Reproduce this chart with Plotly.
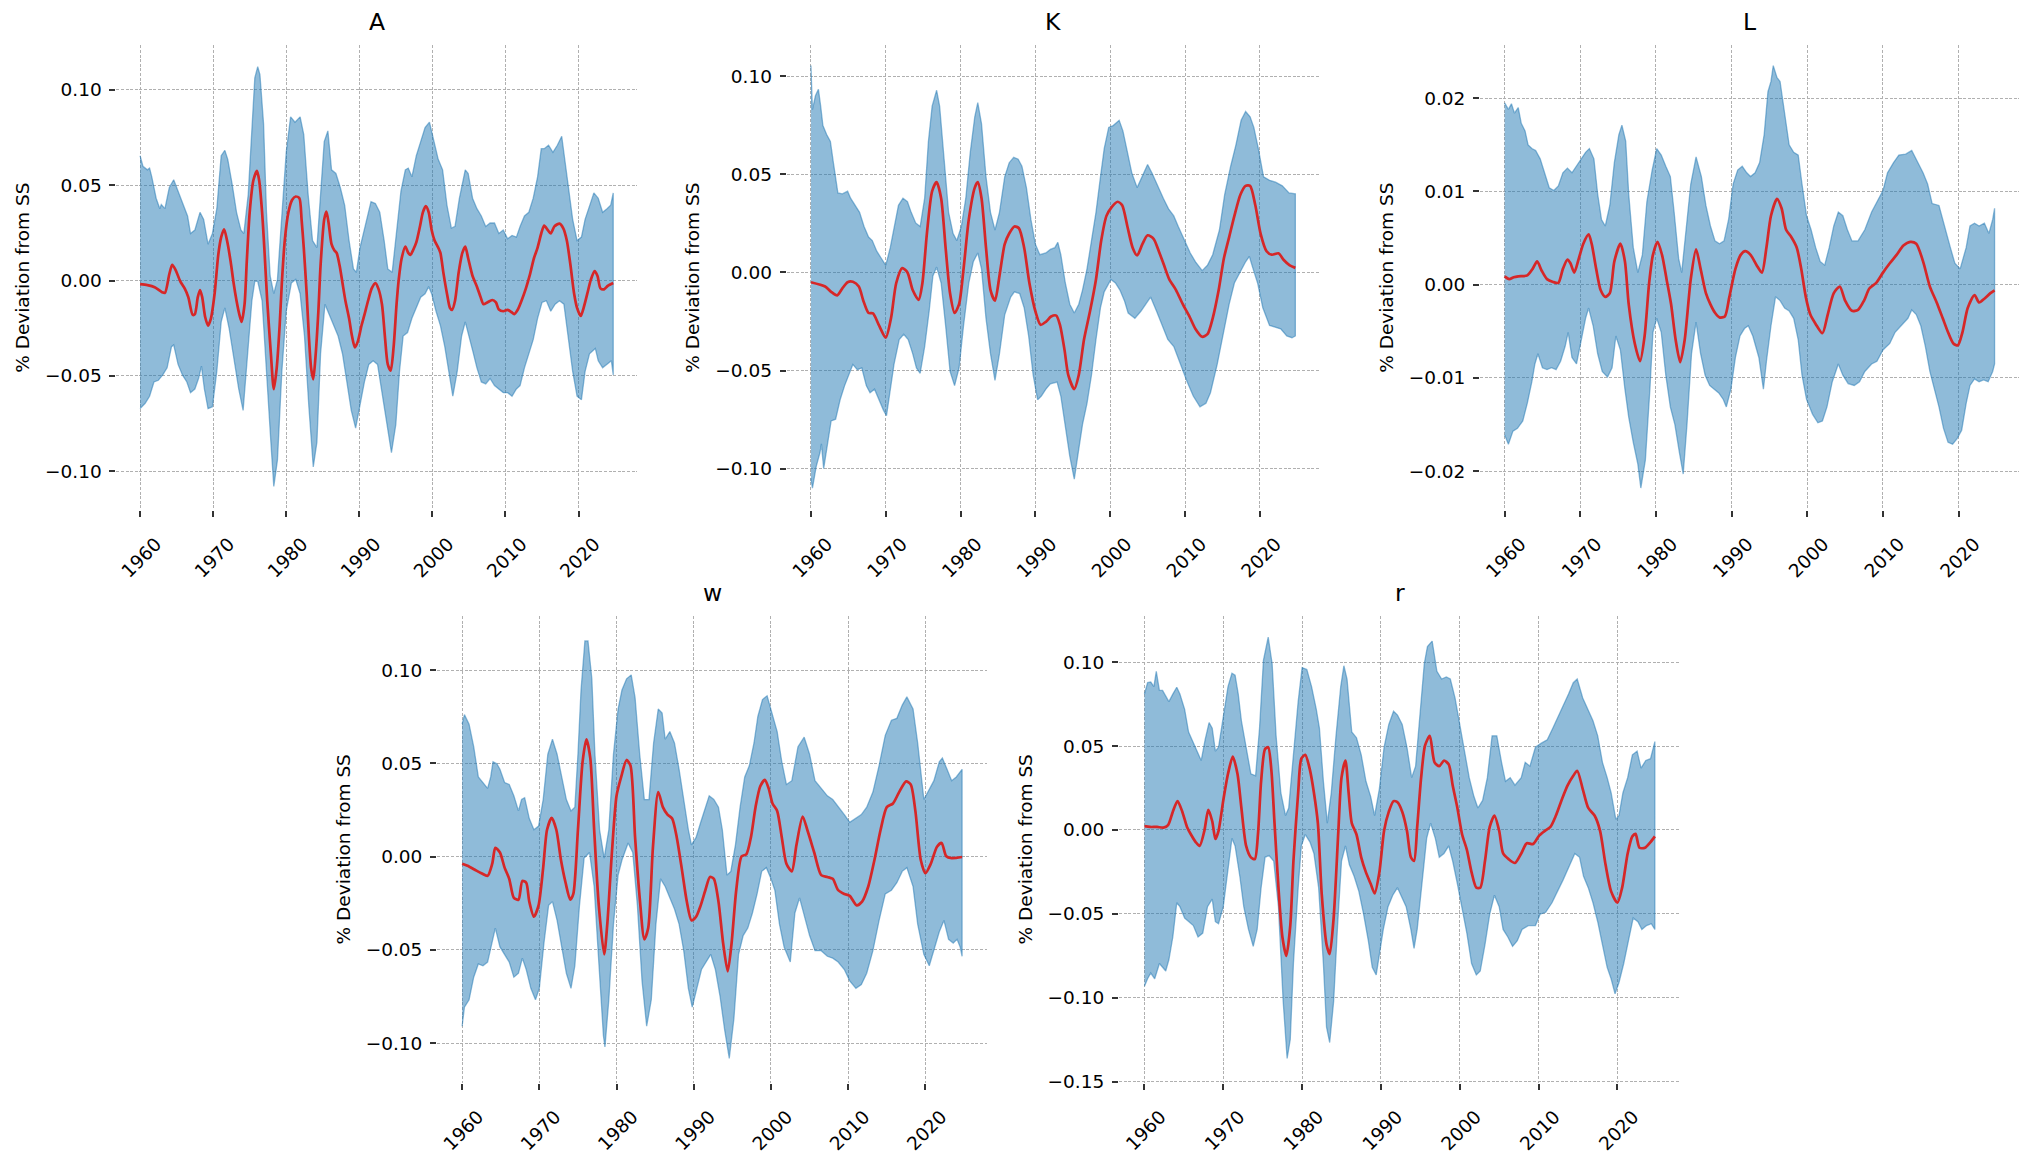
import plotly.graph_objects as go

# ---------------- data: (year, value) pairs ----------------
A_MEAN = [(1960.0,-0.0019),(1961.0,-0.0024),(1962.0,-0.0035),(1963.0,-0.0061),(1963.4,-0.0065),(1964.0,0.0033),(1964.4,0.0083),(1964.9,0.0052),(1965.5,-0.0004),(1966.1,-0.0041),(1966.6,-0.0087),(1967.2,-0.018),(1967.5,-0.0176),(1967.9,-0.0087),(1968.2,-0.005),(1968.5,-0.0087),(1968.9,-0.019),(1969.3,-0.0236),(1969.7,-0.0198),(1970.2,-0.0069),(1970.7,0.0135),(1971.1,0.0228),(1971.5,0.0269),(1971.9,0.021),(1972.4,0.0098),(1972.8,-0.0013),(1973.2,-0.0106),(1973.6,-0.018),(1973.9,-0.0217),(1974.3,-0.0124),(1974.6,0.0098),(1975.0,0.0358),(1975.5,0.0525),(1976.0,0.0575),(1976.3,0.0525),(1976.7,0.0358),(1977.0,0.0173),(1977.4,-0.0106),(1977.9,-0.0384),(1978.3,-0.057),(1978.7,-0.0458),(1979.1,-0.0236),(1979.4,-0.0013),(1979.8,0.021),(1980.3,0.0358),(1980.8,0.0423),(1981.3,0.0441),(1981.8,0.0432),(1982.1,0.0321),(1982.4,0.0173),(1982.8,-0.0069),(1983.1,-0.0291),(1983.4,-0.0458),(1983.7,-0.0518),(1984.0,-0.0403),(1984.4,-0.0161),(1984.7,0.008),(1985.2,0.0321),(1985.5,0.0362),(1985.8,0.0302),(1986.2,0.0191),(1986.6,0.0158),(1986.9,0.0145),(1987.3,0.008),(1987.7,-0.0013),(1988.1,-0.0106),(1988.6,-0.0198),(1989.0,-0.0291),(1989.4,-0.0351),(1989.8,-0.0319),(1990.3,-0.0236),(1990.7,-0.018),(1991.2,-0.0106),(1991.7,-0.0041),(1992.2,-0.0013),(1992.6,-0.0041),(1993.1,-0.0124),(1993.5,-0.0291),(1993.9,-0.044),(1994.3,-0.0473),(1994.7,-0.0347),(1995.1,-0.0124),(1995.4,0.0006),(1995.8,0.0117),(1996.3,0.0178),(1996.7,0.0145),(1997.0,0.0135),(1997.4,0.0163),(1997.8,0.02),(1998.3,0.0284),(1998.7,0.0358),(1999.1,0.039),(1999.5,0.0358),(1999.9,0.0265),(2000.3,0.021),(2000.8,0.0173),(2001.1,0.0145),(2001.5,0.0043),(2002.0,-0.0069),(2002.4,-0.0143),(2002.7,-0.0154),(2003.1,-0.0106),(2003.6,0.0043),(2004.1,0.0145),(2004.5,0.0178),(2004.9,0.0117),(2005.5,0.0024),(2006.1,-0.0032),(2006.6,-0.0087),(2007.0,-0.0124),(2007.5,-0.0115),(2008.2,-0.0102),(2008.7,-0.0115),(2009.1,-0.0152),(2009.7,-0.0161),(2010.3,-0.0154),(2010.8,-0.0165),(2011.2,-0.0176),(2011.7,-0.0152),(2012.2,-0.0106),(2012.8,-0.0041),(2013.3,0.0024),(2013.9,0.0117),(2014.4,0.0173),(2014.9,0.0247),(2015.3,0.0288),(2015.8,0.0265),(2016.2,0.0247),(2016.7,0.0284),(2017.4,0.0299),(2017.9,0.0275),(2018.4,0.021),(2018.9,0.008),(2019.4,-0.0069),(2019.8,-0.0143),(2020.3,-0.0186),(2020.7,-0.0143),(2021.2,-0.0069),(2021.7,0.0006),(2022.2,0.005),(2022.6,0.0024),(2023.0,-0.0041),(2023.5,-0.0046),(2024.0,-0.0028),(2024.75,-0.0013)]
A_UPPER = [(1960.0,0.0655),(1960.4,0.0599),(1961.0,0.0581),(1961.3,0.059),(1961.6,0.0544),(1962.2,0.0432),(1962.7,0.0377),(1962.9,0.0399),(1963.4,0.0377),(1964.0,0.0488),(1964.6,0.0529),(1965.2,0.0469),(1965.8,0.0404),(1966.5,0.0339),(1966.9,0.0247),(1967.5,0.0265),(1968.2,0.0358),(1968.7,0.0321),(1969.3,0.0191),(1969.9,0.0247),(1970.5,0.0377),(1971.1,0.0655),(1971.6,0.0683),(1972.0,0.0636),(1972.6,0.0506),(1973.2,0.0358),(1973.8,0.0265),(1974.2,0.0247),(1974.8,0.0451),(1975.3,0.0822),(1975.7,0.1063),(1976.1,0.1122),(1976.4,0.1081),(1976.9,0.0822),(1977.3,0.0358),(1977.8,0.0024),(1978.3,-0.0069),(1978.8,0.0006),(1979.4,0.0358),(1980.0,0.0673),(1980.6,0.0859),(1981.2,0.0831),(1981.9,0.0859),(1982.4,0.0766),(1983.0,0.0451),(1983.6,0.021),(1984.2,0.0173),(1984.7,0.0432),(1985.2,0.0729),(1985.7,0.0785),(1986.2,0.0581),(1986.8,0.0562),(1987.4,0.0488),(1988.0,0.0395),(1988.6,0.021),(1989.2,0.0061),(1989.6,0.0043),(1990.1,0.0173),(1991.0,0.0321),(1991.6,0.0414),(1992.2,0.0404),(1992.8,0.0358),(1993.4,0.021),(1993.9,0.0061),(1994.5,0.0043),(1995.1,0.0265),(1995.7,0.0469),(1996.3,0.0581),(1996.7,0.059),(1997.2,0.0544),(1997.8,0.0655),(1998.4,0.0729),(1999.0,0.0803),(1999.6,0.0831),(2000.2,0.0729),(2000.8,0.0636),(2001.4,0.0581),(2002.0,0.0395),(2002.6,0.0275),(2003.1,0.0284),(2003.7,0.0432),(2004.5,0.0581),(2004.9,0.0562),(2005.5,0.0432),(2006.1,0.0377),(2006.7,0.0339),(2007.3,0.0284),(2007.9,0.0302),(2008.5,0.0302),(2009.1,0.0247),(2009.7,0.0265),(2010.3,0.0219),(2010.9,0.0237),(2011.5,0.0228),(2012.0,0.0284),(2012.6,0.0339),(2013.2,0.0358),(2013.8,0.0432),(2014.4,0.0544),(2014.9,0.0692),(2015.3,0.0692),(2015.9,0.071),(2016.5,0.0673),(2017.1,0.071),(2017.7,0.0757),(2018.0,0.0673),(2018.6,0.0506),(2019.2,0.0321),(2019.8,0.021),(2020.4,0.0228),(2020.9,0.0321),(2021.5,0.0395),(2022.1,0.046),(2022.7,0.0432),(2023.3,0.0358),(2023.9,0.0377),(2024.4,0.0395),(2024.75,0.046)]
A_LOWER = [(1960.0,-0.0672),(1960.7,-0.0644),(1961.3,-0.0607),(1961.9,-0.0532),(1962.5,-0.0523),(1963.1,-0.0495),(1963.7,-0.0458),(1964.3,-0.0347),(1964.6,-0.0338),(1965.2,-0.044),(1965.8,-0.0495),(1966.4,-0.0532),(1966.9,-0.0588),(1967.5,-0.0569),(1968.0,-0.0514),(1968.4,-0.0449),(1968.8,-0.0569),(1969.3,-0.0672),(1969.9,-0.0662),(1970.5,-0.0477),(1971.1,-0.0217),(1971.6,-0.0143),(1972.2,-0.0254),(1972.9,-0.0421),(1973.5,-0.0569),(1974.1,-0.0681),(1974.7,-0.0384),(1975.3,-0.0106),(1975.7,-0.0004),(1976.1,-0.0004),(1976.7,-0.0106),(1977.3,-0.0477),(1977.9,-0.0848),(1978.3,-0.108),(1978.8,-0.0941),(1979.4,-0.0477),(1980.0,-0.0161),(1980.7,-0.0013),(1981.3,0.0006),(1981.9,-0.0069),(1982.5,-0.0291),(1983.1,-0.0662),(1983.7,-0.0978),(1984.2,-0.0848),(1984.7,-0.0384),(1985.3,-0.0124),(1985.9,-0.018),(1986.5,-0.0236),(1987.1,-0.0291),(1987.7,-0.0384),(1988.3,-0.0532),(1988.9,-0.0681),(1989.5,-0.0774),(1990.1,-0.0662),(1990.7,-0.0532),(1991.3,-0.044),(1991.9,-0.0421),(1992.5,-0.044),(1993.1,-0.0569),(1993.8,-0.0755),(1994.4,-0.0903),(1995.0,-0.0755),(1995.5,-0.0477),(1996.0,-0.0291),(1996.6,-0.0273),(1997.2,-0.0198),(1997.8,-0.0143),(1998.4,-0.0087),(1999.0,-0.0069),(1999.5,-0.0032),(1999.9,-0.0069),(2000.5,-0.0161),(2001.1,-0.0236),(2001.7,-0.0347),(2002.3,-0.0477),(2002.8,-0.0607),(2003.4,-0.0477),(2004.0,-0.0291),(2004.5,-0.0217),(2004.9,-0.0273),(2005.5,-0.0365),(2006.1,-0.0458),(2006.7,-0.0532),(2007.3,-0.0542),(2007.9,-0.0514),(2008.5,-0.0551),(2009.1,-0.0569),(2009.7,-0.0588),(2010.3,-0.0588),(2010.9,-0.0607),(2011.5,-0.0569),(2012.0,-0.0551),(2012.6,-0.0458),(2013.2,-0.0384),(2013.8,-0.031),(2014.4,-0.0198),(2015.0,-0.0115),(2015.6,-0.0106),(2016.2,-0.0161),(2016.8,-0.0124),(2017.4,-0.0106),(2018.0,-0.0124),(2018.6,-0.0291),(2019.2,-0.0477),(2019.8,-0.0607),(2020.4,-0.0625),(2020.9,-0.0477),(2021.5,-0.0384),(2022.3,-0.0356),(2022.7,-0.0421),(2023.3,-0.0458),(2023.9,-0.044),(2024.5,-0.0421),(2024.75,-0.0495)]

K_MEAN = [(1960.0,-0.005),(1961.9,-0.0072),(1962.7,-0.0099),(1963.5,-0.0117),(1964.2,-0.0081),(1964.9,-0.005),(1965.6,-0.0048),(1966.4,-0.0072),(1967.0,-0.0144),(1967.7,-0.0207),(1968.3,-0.0209),(1969.1,-0.027),(1970.0,-0.0333),(1970.7,-0.0234),(1971.4,-0.0054),(1972.2,0.0022),(1972.9,0.0),(1973.6,-0.009),(1974.4,-0.014),(1974.9,-0.0054),(1975.5,0.0198),(1976.2,0.0414),(1976.8,0.046),(1977.4,0.0378),(1978.0,0.0126),(1978.6,-0.0108),(1979.2,-0.0207),(1979.8,-0.0162),(1980.4,0.0018),(1981.1,0.027),(1981.9,0.0432),(1982.3,0.046),(1982.8,0.0378),(1983.4,0.0126),(1984.0,-0.009),(1984.6,-0.0144),(1985.2,-0.0018),(1985.9,0.0144),(1986.5,0.0198),(1987.2,0.0234),(1987.8,0.0225),(1988.5,0.0126),(1989.2,-0.0054),(1990.0,-0.0198),(1990.7,-0.0267),(1991.4,-0.0252),(1992.1,-0.0225),(1992.8,-0.022),(1993.3,-0.027),(1993.9,-0.0396),(1994.4,-0.0523),(1995.2,-0.0595),(1995.8,-0.0523),(1996.5,-0.0342),(1997.3,-0.0198),(1998.1,-0.0036),(1998.8,0.0162),(1999.5,0.0288),(2000.2,0.0333),(2001.0,0.036),(2001.6,0.0342),(2002.3,0.0234),(2003.0,0.0126),(2003.6,0.0086),(2004.3,0.0144),(2005.0,0.0189),(2005.8,0.0171),(2006.5,0.0108),(2007.2,0.0036),(2007.9,-0.0036),(2008.8,-0.009),(2009.7,-0.0162),(2010.6,-0.0225),(2011.4,-0.0288),(2012.3,-0.0328),(2013.0,-0.0315),(2013.7,-0.0234),(2014.5,-0.009),(2015.2,0.0072),(2015.9,0.018),(2016.6,0.0288),(2017.4,0.0396),(2018.1,0.0441),(2018.7,0.0441),(2019.4,0.0342),(2020.1,0.0198),(2020.9,0.0108),(2021.6,0.009),(2022.5,0.0097),(2023.2,0.0063),(2024.0,0.0036),(2024.75,0.0023)]
K_UPPER = [(1960.0,0.1054),(1960.2,0.0829),(1960.6,0.090),(1961.0,0.0933),(1961.3,0.0847),(1961.6,0.0748),(1962.1,0.0703),(1962.6,0.0667),(1963.0,0.0559),(1963.6,0.0405),(1964.2,0.040),(1964.9,0.0414),(1965.3,0.0378),(1965.9,0.0342),(1966.5,0.0306),(1967.1,0.0234),(1967.7,0.018),(1968.2,0.0162),(1968.8,0.0108),(1969.4,0.0072),(1970.0,0.0036),(1970.6,0.0126),(1971.1,0.0234),(1971.7,0.0342),(1972.3,0.0378),(1972.9,0.036),(1973.4,0.0306),(1974.0,0.0252),(1974.6,0.0234),(1975.2,0.0378),(1975.7,0.0667),(1976.2,0.0847),(1976.8,0.0928),(1977.2,0.0847),(1977.8,0.0577),(1978.4,0.0306),(1979.0,0.0198),(1979.5,0.0162),(1980.1,0.0234),(1980.7,0.0378),(1981.3,0.0613),(1981.9,0.0793),(1982.3,0.0865),(1982.8,0.0757),(1983.4,0.0487),(1984.0,0.0306),(1984.6,0.0216),(1985.2,0.0306),(1985.9,0.0487),(1986.5,0.0559),(1987.1,0.0586),(1987.7,0.0577),(1988.2,0.0541),(1988.8,0.0432),(1989.4,0.027),(1990.0,0.0144),(1990.6,0.009),(1991.4,0.0099),(1992.0,0.0117),(1992.6,0.0126),(1993.0,0.0153),(1993.4,0.009),(1994.0,-0.0054),(1994.6,-0.0162),(1995.2,-0.0207),(1995.8,-0.0162),(1996.3,-0.009),(1996.9,0.0018),(1997.5,0.0162),(1998.1,0.0306),(1998.7,0.0487),(1999.2,0.0631),(1999.8,0.0739),(2000.4,0.0748),(2001.2,0.0775),(2001.7,0.0721),(2002.3,0.0613),(2002.9,0.0505),(2003.6,0.0432),(2004.3,0.0487),(2005.0,0.055),(2005.6,0.0505),(2006.4,0.0432),(2007.1,0.0378),(2007.8,0.0324),(2008.5,0.0288),(2009.1,0.0234),(2010.0,0.0162),(2010.7,0.0099),(2011.4,0.0054),(2012.3,0.0009),(2013.0,0.0036),(2013.7,0.009),(2014.6,0.0216),(2015.3,0.0396),(2016.1,0.0541),(2016.8,0.0649),(2017.5,0.0775),(2018.1,0.082),(2018.7,0.0793),(2019.2,0.0739),(2019.8,0.0631),(2020.5,0.0487),(2021.3,0.0469),(2022.1,0.046),(2023.0,0.0441),(2023.9,0.0405),(2024.75,0.040)]
K_LOWER = [(1960.0,-0.105),(1960.2,-0.110),(1960.7,-0.099),(1961.2,-0.0919),(1961.4,-0.0874),(1961.7,-0.100),(1962.1,-0.0901),(1962.7,-0.0757),(1963.3,-0.0748),(1963.9,-0.0649),(1964.5,-0.0577),(1965.0,-0.0523),(1965.6,-0.0469),(1966.2,-0.0496),(1966.8,-0.0487),(1967.4,-0.0577),(1967.9,-0.0613),(1968.5,-0.0595),(1969.1,-0.0649),(1969.7,-0.0703),(1970.1,-0.073),(1970.6,-0.0613),(1971.1,-0.0469),(1971.8,-0.0342),(1972.4,-0.0315),(1973.0,-0.0342),(1973.6,-0.0414),(1974.1,-0.0487),(1974.6,-0.0514),(1975.2,-0.0378),(1975.8,-0.0198),(1976.3,-0.0018),(1976.8,0.0027),(1977.4,-0.0054),(1978.0,-0.027),(1978.6,-0.0505),(1979.2,-0.0577),(1979.8,-0.0487),(1980.4,-0.027),(1981.1,-0.0054),(1981.7,0.0054),(1982.3,0.0099),(1982.8,0.0018),(1983.4,-0.0234),(1984.0,-0.0414),(1984.6,-0.055),(1985.2,-0.0414),(1985.9,-0.0216),(1986.7,-0.0126),(1987.2,-0.0099),(1987.9,-0.0108),(1988.5,-0.018),(1989.1,-0.0324),(1989.7,-0.0523),(1990.3,-0.0649),(1990.8,-0.063),(1991.4,-0.0595),(1992.0,-0.0568),(1992.9,-0.0559),(1993.4,-0.063),(1994.0,-0.0775),(1994.6,-0.0937),(1995.2,-0.1054),(1995.8,-0.0901),(1996.3,-0.0775),(1996.9,-0.0667),(1997.5,-0.0523),(1998.1,-0.0342),(1998.7,-0.018),(1999.2,-0.0099),(2000.1,-0.0036),(2000.7,-0.0054),(2001.3,-0.009),(2001.9,-0.0144),(2002.4,-0.0207),(2003.3,-0.0234),(2004.1,-0.0198),(2004.8,-0.0162),(2005.4,-0.0126),(2006.2,-0.0198),(2007.0,-0.027),(2007.7,-0.0342),(2008.5,-0.0378),(2009.4,-0.0469),(2010.3,-0.0559),(2011.1,-0.063),(2012.0,-0.0685),(2012.8,-0.0667),(2013.4,-0.0613),(2014.3,-0.0469),(2015.1,-0.0324),(2015.9,-0.0162),(2016.6,-0.0054),(2017.4,0.0),(2018.1,0.0054),(2018.6,0.0081),(2019.1,0.0018),(2019.7,-0.0054),(2020.4,-0.018),(2021.3,-0.027),(2022.0,-0.0279),(2022.8,-0.0288),(2023.6,-0.0324),(2024.3,-0.0333),(2024.75,-0.0324)]

L_MEAN = [(1960.0,0.0009),(1960.6,0.0006),(1961.2,0.0008),(1961.8,0.0009),(1963.0,0.001),(1963.7,0.0017),(1964.3,0.0025),(1964.9,0.0015),(1965.6,0.0006),(1966.4,0.0003),(1967.1,0.0002),(1967.7,0.0017),(1968.3,0.0027),(1968.7,0.0023),(1969.2,0.0013),(1969.8,0.0028),(1970.4,0.0044),(1971.1,0.0054),(1971.5,0.0044),(1972.1,0.0017),(1972.7,-0.0006),(1973.3,-0.0013),(1973.9,-0.0009),(1974.5,0.0025),(1975.3,0.0044),(1975.9,0.0025),(1976.4,-0.0021),(1977.2,-0.0063),(1977.9,-0.0082),(1978.5,-0.0055),(1979.1,0.0002),(1979.6,0.0032),(1980.2,0.0046),(1980.8,0.0032),(1981.4,0.0006),(1982.0,-0.0021),(1982.6,-0.0059),(1983.2,-0.0083),(1983.8,-0.0059),(1984.6,0.0006),(1985.3,0.0038),(1985.9,0.0017),(1986.6,-0.0009),(1987.2,-0.0021),(1987.8,-0.003),(1988.4,-0.0035),(1989.1,-0.0034),(1989.7,-0.0013),(1990.5,0.0017),(1991.2,0.0032),(1991.8,0.0036),(1992.5,0.0032),(1993.3,0.0021),(1994.0,0.0013),(1994.6,0.004),(1995.2,0.0074),(1996.0,0.0092),(1996.6,0.0082),(1997.2,0.0059),(1997.9,0.0051),(1998.6,0.004),(1999.2,0.0017),(1999.8,-0.0013),(2000.4,-0.0032),(2001.1,-0.0042),(2002.0,-0.0052),(2002.7,-0.0032),(2003.5,-0.0009),(2004.3,-0.0002),(2005.0,-0.0017),(2005.9,-0.0028),(2006.7,-0.0027),(2007.5,-0.0017),(2008.2,-0.0004),(2009.1,0.0002),(2010.0,0.0013),(2010.9,0.0023),(2011.8,0.0032),(2012.7,0.0042),(2013.6,0.0046),(2014.4,0.0044),(2015.3,0.0025),(2016.2,-0.0002),(2017.1,-0.0019),(2017.9,-0.0036),(2018.6,-0.0051),(2019.3,-0.0063),(2019.9,-0.0065),(2020.5,-0.0051),(2021.2,-0.0025),(2022.1,-0.0011),(2022.7,-0.0019),(2023.4,-0.0015),(2024.2,-0.0009),(2024.75,-0.0006)]
L_UPPER = [(1960.0,0.0195),(1960.5,0.0188),(1960.9,0.0194),(1961.3,0.0184),(1961.8,0.019),(1962.2,0.0173),(1962.7,0.0165),(1963.1,0.015),(1963.6,0.0146),(1964.1,0.0144),(1964.7,0.0135),(1965.3,0.012),(1965.9,0.0104),(1966.5,0.0101),(1967.1,0.0106),(1967.7,0.012),(1968.3,0.0125),(1968.9,0.012),(1969.5,0.0127),(1970.1,0.0135),(1970.7,0.0142),(1971.2,0.0146),(1971.8,0.0135),(1972.3,0.0097),(1972.8,0.007),(1973.3,0.0063),(1973.9,0.0085),(1974.5,0.0131),(1975.1,0.0161),(1975.5,0.0171),(1976.0,0.0154),(1976.4,0.0097),(1977.0,0.004),(1977.6,0.0013),(1978.2,0.0032),(1978.8,0.0089),(1979.5,0.0123),(1980.1,0.0146),(1980.7,0.0139),(1981.3,0.0127),(1981.9,0.0116),(1982.4,0.0078),(1983.0,0.0028),(1983.4,0.0013),(1984.0,0.0063),(1984.6,0.0108),(1985.3,0.0137),(1986.0,0.0116),(1986.6,0.0085),(1987.2,0.0063),(1987.8,0.0047),(1988.4,0.0044),(1989.0,0.0047),(1989.6,0.007),(1990.2,0.0108),(1990.8,0.0123),(1991.4,0.0127),(1992.0,0.012),(1992.5,0.0116),(1993.1,0.012),(1993.7,0.0131),(1994.3,0.0161),(1994.8,0.0207),(1995.2,0.0218),(1995.5,0.0235),(1996.0,0.0222),(1996.4,0.0218),(1997.0,0.0184),(1997.6,0.015),(1998.2,0.0142),(1998.8,0.0139),(1999.3,0.0108),(1999.9,0.0074),(2000.5,0.0059),(2001.1,0.004),(2001.7,0.0025),(2002.3,0.0021),(2002.9,0.004),(2003.5,0.0063),(2004.1,0.0078),(2004.7,0.0074),(2005.3,0.0059),(2005.9,0.0047),(2006.7,0.0047),(2007.6,0.0059),(2008.5,0.0078),(2009.2,0.0089),(2010.0,0.0101),(2010.6,0.012),(2011.4,0.0131),(2012.1,0.0139),(2013.0,0.014),(2013.8,0.0144),(2014.6,0.0131),(2015.3,0.012),(2015.9,0.0108),(2016.5,0.0087),(2017.4,0.0085),(2018.1,0.0063),(2018.9,0.004),(2019.5,0.0023),(2020.2,0.0017),(2021.0,0.004),(2021.5,0.0063),(2022.1,0.0066),(2022.7,0.0063),(2023.4,0.0066),(2024.0,0.0055),(2024.5,0.007),(2024.75,0.0082)]
L_LOWER = [(1960.0,-0.0161),(1960.5,-0.0171),(1961.1,-0.0157),(1961.7,-0.0154),(1962.4,-0.0146),(1963.0,-0.0127),(1963.6,-0.0104),(1964.0,-0.0085),(1964.4,-0.0074),(1965.0,-0.0089),(1965.6,-0.0091),(1966.2,-0.0089),(1966.8,-0.0091),(1967.4,-0.0082),(1968.0,-0.0066),(1968.4,-0.0051),(1968.9,-0.0078),(1969.5,-0.0085),(1970.1,-0.0059),(1970.7,-0.0036),(1971.1,-0.0025),(1971.7,-0.0044),(1972.3,-0.0074),(1972.9,-0.0093),(1973.6,-0.0099),(1974.2,-0.0089),(1974.7,-0.0055),(1975.3,-0.007),(1975.9,-0.0112),(1976.4,-0.0142),(1977.0,-0.0169),(1977.6,-0.0192),(1978.0,-0.0218),(1978.6,-0.0188),(1979.2,-0.0112),(1979.6,-0.0051),(1980.1,-0.0036),(1980.7,-0.0051),(1981.3,-0.0097),(1981.9,-0.0131),(1982.5,-0.015),(1983.1,-0.018),(1983.6,-0.0203),(1984.1,-0.015),(1984.7,-0.0074),(1985.3,-0.004),(1985.9,-0.0074),(1986.5,-0.0097),(1987.1,-0.0108),(1987.7,-0.0112),(1988.3,-0.0116),(1988.9,-0.0123),(1989.3,-0.0131),(1989.9,-0.0112),(1990.5,-0.0078),(1991.1,-0.0055),(1991.7,-0.0047),(1992.2,-0.0044),(1992.8,-0.0055),(1993.6,-0.0078),(1994.2,-0.0112),(1994.6,-0.0082),(1995.2,-0.0044),(1995.8,-0.0013),(1996.4,-0.0017),(1997.0,-0.0025),(1997.6,-0.0028),(1998.2,-0.0036),(1998.8,-0.0059),(1999.3,-0.0097),(1999.9,-0.0123),(2000.7,-0.0139),(2001.4,-0.0148),(2002.0,-0.0146),(2002.6,-0.0131),(2003.3,-0.0104),(2004.1,-0.0085),(2004.7,-0.0097),(2005.4,-0.0106),(2006.2,-0.0108),(2006.9,-0.0104),(2007.6,-0.0093),(2008.5,-0.0085),(2009.2,-0.0082),(2010.0,-0.007),(2010.9,-0.0063),(2011.6,-0.0051),(2012.4,-0.0044),(2013.3,-0.0036),(2013.8,-0.0027),(2014.4,-0.0032),(2015.0,-0.0044),(2015.6,-0.0066),(2016.2,-0.0093),(2016.8,-0.0112),(2017.4,-0.0131),(2018.0,-0.0154),(2018.6,-0.0169),(2019.2,-0.0171),(2019.8,-0.0165),(2020.4,-0.0156),(2021.0,-0.0127),(2021.5,-0.0108),(2022.1,-0.0101),(2022.7,-0.0104),(2023.3,-0.0102),(2023.9,-0.0104),(2024.5,-0.0093),(2024.75,-0.0085)]

W_MEAN = [(1960.0,-0.0038),(1960.7,-0.0049),(1961.6,-0.0069),(1962.5,-0.0089),(1963.3,-0.0103),(1963.9,-0.0038),(1964.3,0.0047),(1964.9,0.0022),(1965.5,-0.0059),(1966.1,-0.0119),(1966.7,-0.0221),(1967.3,-0.0231),(1967.8,-0.013),(1968.3,-0.014),(1968.7,-0.0241),(1969.3,-0.0322),(1969.9,-0.0261),(1970.5,-0.0059),(1971.0,0.0144),(1971.6,0.0208),(1972.2,0.0144),(1972.8,-0.0018),(1973.4,-0.014),(1974.0,-0.0231),(1974.4,-0.02),(1975.0,0.0144),(1975.6,0.0508),(1976.1,0.0629),(1976.6,0.0528),(1977.1,0.0144),(1977.7,-0.0261),(1978.4,-0.0524),(1978.8,-0.0362),(1979.4,0.0022),(1980.0,0.0326),(1980.6,0.0427),(1981.3,0.0518),(1981.8,0.0488),(1982.4,0.0103),(1983.0,-0.0221),(1983.6,-0.0443),(1984.1,-0.0383),(1984.7,0.0042),(1985.4,0.0346),(1986.0,0.0265),(1986.6,0.0225),(1987.2,0.0204),(1987.8,0.0103),(1988.5,-0.0079),(1989.1,-0.0241),(1989.7,-0.0342),(1990.3,-0.0322),(1990.9,-0.0261),(1991.5,-0.018),(1992.1,-0.0109),(1992.6,-0.0119),(1993.2,-0.0241),(1993.8,-0.0463),(1994.4,-0.0615),(1994.9,-0.0463),(1995.5,-0.018),(1996.2,0.0002),(1996.8,0.0012),(1997.4,0.0103),(1998.0,0.0265),(1998.6,0.0376),(1999.2,0.0411),(1999.7,0.0366),(2000.2,0.0285),(2000.8,0.0245),(2001.4,0.0103),(2002.0,-0.0038),(2002.7,-0.0079),(2003.3,0.0063),(2004.1,0.0215),(2004.7,0.0144),(2005.6,0.0022),(2006.5,-0.0099),(2007.3,-0.0109),(2008.0,-0.0119),(2008.7,-0.018),(2009.5,-0.02),(2010.2,-0.021),(2011.1,-0.0261),(2011.8,-0.0241),(2012.6,-0.016),(2013.4,-0.0018),(2014.2,0.0144),(2015.0,0.0265),(2015.8,0.0285),(2016.6,0.0346),(2017.5,0.0403),(2018.1,0.0387),(2018.7,0.0245),(2019.4,-0.0018),(2020.0,-0.0089),(2020.7,-0.0038),(2021.5,0.0053),(2022.1,0.0073),(2022.7,0.0002),(2023.4,-0.0008),(2024.75,-0.0002)]
W_UPPER = [(1960.0,0.071),(1960.3,0.0761),(1960.9,0.071),(1961.5,0.0589),(1962.1,0.0427),(1962.7,0.0397),(1963.3,0.0366),(1963.7,0.0427),(1964.0,0.0508),(1964.5,0.0498),(1964.9,0.0468),(1965.5,0.0397),(1966.1,0.0387),(1966.7,0.0326),(1967.3,0.0245),(1967.7,0.0306),(1968.1,0.0316),(1968.7,0.0204),(1969.3,0.0144),(1969.9,0.0164),(1970.5,0.0306),(1971.1,0.0549),(1971.7,0.0629),(1972.3,0.0549),(1972.9,0.0427),(1973.5,0.0306),(1974.1,0.0245),(1974.6,0.0265),(1975.0,0.0549),(1975.4,0.0893),(1975.9,0.1156),(1976.3,0.1156),(1976.8,0.0953),(1977.2,0.0549),(1977.8,0.0144),(1978.4,-0.0008),(1979.0,0.0144),(1979.6,0.0549),(1980.2,0.0791),(1980.7,0.0893),(1981.3,0.0953),(1981.9,0.0974),(1982.4,0.0852),(1983.0,0.0549),(1983.6,0.0306),(1984.2,0.0306),(1984.8,0.0609),(1985.4,0.0791),(1985.9,0.077),(1986.3,0.0629),(1986.9,0.067),(1987.5,0.0609),(1988.1,0.0468),(1988.7,0.0306),(1989.3,0.0144),(1989.7,0.0063),(1990.3,0.0103),(1990.9,0.0184),(1991.5,0.0265),(1992.0,0.0326),(1992.6,0.0306),(1993.2,0.0265),(1993.7,0.0144),(1994.3,-0.0099),(1994.8,-0.0079),(1995.4,0.0063),(1996.0,0.0265),(1996.6,0.0427),(1997.2,0.0488),(1997.8,0.0609),(1998.3,0.0751),(1998.9,0.0842),(1999.5,0.0862),(2000.1,0.0771),(2000.8,0.067),(2001.4,0.0508),(2002.0,0.0387),(2002.7,0.0407),(2003.5,0.0589),(2004.3,0.064),(2005.0,0.0549),(2005.7,0.0407),(2006.5,0.0366),(2007.3,0.0326),(2008.0,0.0306),(2008.7,0.0265),(2009.5,0.0225),(2010.2,0.0184),(2011.0,0.0204),(2011.7,0.0225),(2012.4,0.0265),(2013.2,0.0346),(2014.0,0.0488),(2014.8,0.065),(2015.6,0.0731),(2016.3,0.0741),(2017.0,0.0812),(2017.6,0.0856),(2018.4,0.0791),(2019.0,0.0609),(2019.8,0.0306),(2020.3,0.0346),(2021.1,0.0407),(2021.8,0.0508),(2022.2,0.0528),(2022.8,0.0468),(2023.4,0.0407),(2024.0,0.0427),(2024.75,0.0468)]
W_LOWER = [(1960.0,-0.0909),(1960.3,-0.0807),(1960.9,-0.0767),(1961.5,-0.0646),(1962.1,-0.0575),(1962.7,-0.0585),(1963.3,-0.0565),(1963.9,-0.0463),(1964.3,-0.0383),(1964.9,-0.0484),(1965.5,-0.0524),(1966.1,-0.0565),(1966.7,-0.0646),(1967.3,-0.0625),(1967.8,-0.0544),(1968.3,-0.0605),(1968.9,-0.0706),(1969.5,-0.0767),(1970.0,-0.0706),(1970.6,-0.0463),(1971.2,-0.0261),(1971.7,-0.0241),(1972.3,-0.0342),(1972.9,-0.0484),(1973.5,-0.0625),(1974.1,-0.0706),(1974.6,-0.0585),(1975.2,-0.0261),(1975.8,-0.0008),(1976.5,0.0022),(1977.1,-0.016),(1977.7,-0.0565),(1978.3,-0.096),(1978.5,-0.102),(1979.0,-0.0767),(1979.6,-0.0362),(1980.2,-0.0099),(1980.7,-0.0018),(1981.5,0.0073),(1982.1,0.0022),(1982.7,-0.0261),(1983.3,-0.0666),(1983.9,-0.0909),(1984.5,-0.0767),(1985.1,-0.0362),(1985.7,-0.0119),(1986.3,-0.016),(1986.9,-0.0221),(1987.5,-0.0281),(1988.1,-0.0362),(1988.7,-0.0504),(1989.3,-0.0706),(1989.8,-0.0807),(1990.4,-0.0706),(1991.0,-0.0605),(1991.6,-0.0565),(1992.2,-0.0524),(1992.8,-0.0605),(1993.4,-0.0747),(1994.0,-0.0929),(1994.6,-0.1081),(1995.2,-0.0868),(1995.8,-0.0524),(1996.4,-0.0423),(1997.0,-0.0383),(1997.6,-0.0302),(1998.2,-0.02),(1998.8,-0.0079),(1999.4,-0.0059),(2000.0,-0.0119),(2000.5,-0.018),(2001.1,-0.0362),(2001.7,-0.0484),(2002.5,-0.0565),(2003.1,-0.0302),(2003.7,-0.0221),(2004.3,-0.0322),(2005.0,-0.0423),(2005.7,-0.0504),(2006.5,-0.0504),(2007.3,-0.0534),(2008.0,-0.0544),(2008.7,-0.0565),(2009.5,-0.0605),(2010.2,-0.0666),(2011.0,-0.0706),(2011.7,-0.0686),(2012.4,-0.0625),(2013.2,-0.0504),(2014.0,-0.0342),(2014.8,-0.02),(2015.6,-0.018),(2016.3,-0.014),(2017.0,-0.0079),(2017.6,-0.0059),(2018.4,-0.016),(2019.0,-0.0362),(2019.8,-0.0524),(2020.5,-0.0585),(2021.1,-0.0504),(2021.8,-0.0403),(2022.4,-0.0342),(2023.0,-0.0443),(2023.6,-0.0463),(2024.1,-0.0443),(2024.5,-0.0484),(2024.75,-0.0534)]

R_MEAN = [(1960.0,0.0023),(1960.7,0.0018),(1961.6,0.0018),(1962.4,0.0014),(1963.0,0.0029),(1963.6,0.0109),(1964.2,0.0172),(1964.8,0.0109),(1965.4,0.0018),(1965.9,-0.0027),(1966.5,-0.0072),(1967.0,-0.0095),(1967.6,-0.0005),(1968.1,0.012),(1968.6,0.0052),(1969.0,-0.0054),(1969.4,-0.0005),(1970.0,0.0176),(1970.6,0.0335),(1971.2,0.0437),(1971.8,0.0335),(1972.3,0.0131),(1972.9,-0.0095),(1973.5,-0.0163),(1974.0,-0.0174),(1974.4,-0.0027),(1974.8,0.029),(1975.3,0.0482),(1975.7,0.0493),(1976.1,0.0357),(1976.5,0.0041),(1977.0,-0.0344),(1977.5,-0.0638),(1978.0,-0.0751),(1978.5,-0.057),(1978.9,-0.0185),(1979.5,0.0222),(1979.9,0.0425),(1980.4,0.0448),(1981.0,0.0357),(1981.5,0.0222),(1982.0,0.0041),(1982.5,-0.0389),(1983.1,-0.0683),(1983.5,-0.074),(1984.0,-0.0525),(1984.6,-0.0005),(1985.0,0.0312),(1985.5,0.0414),(1985.9,0.0222),(1986.3,0.0041),(1986.9,-0.0027),(1987.5,-0.0163),(1988.1,-0.0253),(1988.7,-0.0321),(1989.2,-0.0378),(1989.8,-0.0253),(1990.4,-0.0005),(1991.0,0.0109),(1991.6,0.0172),(1992.1,0.0165),(1992.7,0.0109),(1993.3,-0.0005),(1993.8,-0.0163),(1994.2,-0.0185),(1994.6,0.0018),(1995.1,0.0312),(1995.6,0.0504),(1996.2,0.0561),(1996.8,0.0403),(1997.4,0.038),(1998.0,0.0414),(1998.6,0.0391),(1999.1,0.0267),(1999.7,0.0131),(2000.3,-0.0027),(2000.9,-0.0118),(2001.5,-0.0253),(2002.1,-0.0344),(2002.6,-0.0344),(2003.2,-0.0185),(2003.8,0.0018),(2004.4,0.0086),(2005.0,-0.0005),(2005.5,-0.014),(2006.2,-0.0174),(2007.0,-0.0197),(2007.8,-0.014),(2008.5,-0.0079),(2009.3,-0.0084),(2010.1,-0.0032),(2010.8,-0.0005),(2011.5,0.0018),(2012.2,0.0086),(2013.0,0.0188),(2013.7,0.0267),(2014.4,0.0323),(2014.9,0.0353),(2015.6,0.0244),(2016.3,0.0131),(2017.1,0.0086),(2017.8,-0.0005),(2018.5,-0.0208),(2019.2,-0.0366),(2020.0,-0.0434),(2020.6,-0.0344),(2021.3,-0.014),(2021.9,-0.0038),(2022.3,-0.0023),(2022.8,-0.0106),(2023.5,-0.0106),(2024.2,-0.0072),(2024.75,-0.0038)]
R_UPPER = [(1960.0,0.081),(1960.4,0.0878),(1960.8,0.0882),(1961.2,0.0855),(1961.5,0.0946),(1961.9,0.0832),(1962.3,0.0832),(1962.7,0.0798),(1963.1,0.0765),(1963.6,0.081),(1964.1,0.0851),(1964.5,0.081),(1965.1,0.0719),(1965.6,0.0584),(1966.2,0.0516),(1966.8,0.0448),(1967.2,0.0414),(1967.7,0.0538),(1968.2,0.064),(1968.6,0.0606),(1969.0,0.047),(1969.4,0.0493),(1970.0,0.0674),(1970.6,0.0855),(1971.1,0.0934),(1971.5,0.0923),(1971.9,0.081),(1972.3,0.0651),(1972.9,0.0493),(1973.5,0.0335),(1974.1,0.0323),(1974.6,0.0606),(1975.1,0.1013),(1975.7,0.1149),(1976.2,0.0991),(1976.7,0.0561),(1977.3,0.0222),(1977.9,0.0086),(1978.3,0.0131),(1978.9,0.0448),(1979.5,0.0765),(1980.0,0.0968),(1980.6,0.0957),(1981.2,0.0855),(1981.8,0.0719),(1982.2,0.0606),(1982.7,0.029),(1983.2,0.0041),(1983.7,0.0222),(1984.3,0.0561),(1984.9,0.0855),(1985.3,0.0979),(1985.7,0.09),(1986.3,0.0584),(1986.9,0.055),(1987.5,0.0448),(1988.1,0.029),(1988.7,0.0199),(1989.2,0.0086),(1989.8,0.0244),(1990.4,0.0493),(1991.0,0.0629),(1991.6,0.0708),(1992.1,0.0685),(1992.7,0.0629),(1993.3,0.0493),(1993.9,0.0312),(1994.4,0.038),(1994.9,0.0674),(1995.5,0.0991),(1995.9,0.1093),(1996.5,0.1126),(1997.1,0.0946),(1997.7,0.09),(1998.3,0.0912),(1998.8,0.09),(1999.4,0.0787),(2000.0,0.0629),(2000.6,0.0448),(2001.2,0.0312),(2001.8,0.0199),(2002.3,0.0131),(2002.9,0.0176),(2003.5,0.0312),(2004.1,0.0561),(2004.7,0.0561),(2005.3,0.0403),(2005.8,0.029),(2006.4,0.0312),(2007.0,0.0267),(2007.8,0.0312),(2008.3,0.0403),(2008.9,0.038),(2009.6,0.0493),(2010.3,0.0516),(2011.1,0.0538),(2011.8,0.0606),(2012.5,0.0674),(2013.2,0.0742),(2013.8,0.081),(2014.4,0.0878),(2014.9,0.09),(2015.6,0.0787),(2016.3,0.0719),(2016.9,0.0651),(2017.5,0.0561),(2018.1,0.0403),(2018.7,0.0312),(2019.2,0.0222),(2019.8,0.0063),(2020.2,0.0086),(2020.7,0.0222),(2021.3,0.0312),(2021.9,0.0448),(2022.5,0.047),(2023.0,0.0369),(2023.6,0.0414),(2024.2,0.0425),(2024.75,0.0527)]
R_LOWER = [(1960.0,-0.0932),(1960.4,-0.0887),(1960.8,-0.0853),(1961.3,-0.0887),(1961.9,-0.0796),(1962.3,-0.0819),(1962.7,-0.0841),(1963.1,-0.0774),(1963.6,-0.0638),(1964.1,-0.0434),(1964.5,-0.0457),(1965.1,-0.0525),(1965.6,-0.0547),(1966.2,-0.057),(1966.8,-0.0638),(1967.4,-0.0615),(1968.0,-0.0457),(1968.6,-0.0412),(1969.0,-0.0547),(1969.4,-0.0559),(1970.0,-0.0457),(1970.6,-0.0231),(1971.1,-0.005),(1971.5,-0.0095),(1972.1,-0.0276),(1972.6,-0.0457),(1973.2,-0.0593),(1973.8,-0.0694),(1974.3,-0.0593),(1974.8,-0.0344),(1975.3,-0.0163),(1975.8,-0.0152),(1976.4,-0.0185),(1977.0,-0.0457),(1977.6,-0.1022),(1978.1,-0.1362),(1978.5,-0.1249),(1978.9,-0.0796),(1979.5,-0.0344),(1979.9,-0.0095),(1980.4,-0.0027),(1981.0,-0.0072),(1981.5,-0.014),(1982.1,-0.0344),(1982.7,-0.0796),(1983.1,-0.1176),(1983.5,-0.1267),(1984.0,-0.1022),(1984.5,-0.057),(1985.0,-0.0185),(1985.5,-0.0095),(1986.0,-0.0208),(1986.6,-0.0276),(1987.2,-0.0366),(1987.8,-0.0502),(1988.4,-0.066),(1988.9,-0.0819),(1989.4,-0.0864),(1989.8,-0.0751),(1990.3,-0.0593),(1990.9,-0.0457),(1991.5,-0.0389),(1992.1,-0.0344),(1992.6,-0.0389),(1993.2,-0.0457),(1993.8,-0.0593),(1994.2,-0.0706),(1994.6,-0.0593),(1995.2,-0.0321),(1995.8,-0.005),(1996.3,0.0041),(1996.9,-0.005),(1997.4,-0.0163),(1998.0,-0.014),(1998.6,-0.0095),(1999.1,-0.0185),(1999.7,-0.0321),(2000.3,-0.0457),(2000.9,-0.0615),(2001.5,-0.0796),(2002.1,-0.0864),(2002.6,-0.0841),(2003.2,-0.0683),(2003.8,-0.0502),(2004.4,-0.0389),(2005.0,-0.0457),(2005.5,-0.0593),(2006.1,-0.0638),(2006.7,-0.0694),(2007.3,-0.066),(2007.9,-0.0593),(2008.7,-0.057),(2009.6,-0.057),(2010.2,-0.0502),(2010.9,-0.0491),(2011.7,-0.0434),(2012.4,-0.0366),(2013.1,-0.0299),(2013.8,-0.0231),(2014.6,-0.014),(2015.2,-0.0163),(2015.7,-0.0276),(2016.3,-0.0344),(2016.9,-0.0434),(2017.5,-0.0547),(2018.1,-0.0683),(2018.7,-0.0819),(2019.2,-0.0887),(2019.7,-0.0977),(2020.2,-0.0909),(2020.8,-0.0796),(2021.4,-0.066),(2022.0,-0.0525),(2022.6,-0.0547),(2023.1,-0.0593),(2023.7,-0.057),(2024.3,-0.0559),(2024.75,-0.0593)]

TITLES = ["A", "K", "L", "w", "r"]
Y_TICKS = {
    "A": [-0.10, -0.05, 0.0, 0.05, 0.10],
    "K": [-0.10, -0.05, 0.0, 0.05, 0.10],
    "L": [-0.02, -0.01, 0.0, 0.01, 0.02],
    "w": [-0.10, -0.05, 0.0, 0.05, 0.10],
    "r": [-0.15, -0.10, -0.05, 0.0, 0.05, 0.10],
}
X_TICKS = [1960, 1970, 1980, 1990, 2000, 2010, 2020]
Y_LABEL = "% Deviation from SS"

SERIES = {
    "A": (A_MEAN, A_UPPER, A_LOWER),
    "K": (K_MEAN, K_UPPER, K_LOWER),
    "L": (L_MEAN, L_UPPER, L_LOWER),
    "w": (W_MEAN, W_UPPER, W_LOWER),
    "r": (R_MEAN, R_UPPER, R_LOWER),
}

# ---------------- layout / style ----------------
W, H = 2032, 1168
X_RANGE = [1956.76, 2027.99]
Y_RANGES = {"A": [-0.1204, 0.1234], "K": [-0.1211, 0.1157], "L": [-0.02416, 0.02567],
            "w": [-0.1211, 0.1290], "r": [-0.1506, 0.1276]}
# pixel boxes (left, right, top, bottom)
BOXES = {"A": (116.4, 636.9, 45.7, 514.0), "K": (786.7, 1319.6, 45.7, 514.0),
         "L": (1480.1, 2019.1, 45.7, 514.0), "w": (437.1, 987.1, 620.7, 1091.0),
         "r": (1118.9, 1680.4, 620.7, 1091.0)}

FONT = "DejaVu Sans"
TICK_SIZE = 18.5
BAND_FILL = "rgba(31,119,180,0.5)"
BAND_EDGE = "rgba(31,119,180,0.5)"
LINE_RED = "#d62728"
GRID = "#b0b0b0"


def unzip(pairs):
    return [p[0] for p in pairs], [p[1] for p in pairs]


def fmt(v):
    s = f"{abs(v):.2f}"
    return ("\u2212" + s) if v < -1e-12 else s


fig = go.Figure()
layout = dict(width=W, height=H, margin=dict(l=0, r=0, t=0, b=0),
              paper_bgcolor="white", plot_bgcolor="white", showlegend=False,
              font=dict(family=FONT, color="black", size=TICK_SIZE))
annotations = []

for i, name in enumerate(TITLES):
    k = "" if i == 0 else str(i + 1)
    xa, ya = "x" + k, "y" + k
    mean, up, lo = SERIES[name]
    ux, uy = unzip(up)
    lx, ly = unzip(lo)
    mx, my = unzip(mean)
    fig.add_trace(go.Scatter(x=ux + lx[::-1], y=uy + ly[::-1], fill="toself",
                             fillcolor=BAND_FILL, mode="lines",
                             line=dict(color=BAND_EDGE, width=1.3),
                             xaxis=xa, yaxis=ya, hoverinfo="skip"))
    fig.add_trace(go.Scatter(x=mx, y=my, mode="lines",
                             line=dict(color=LINE_RED, width=2.7, shape="spline", smoothing=0.7),
                             xaxis=xa, yaxis=ya))
    l, r, t, b = BOXES[name]
    xdom = [l / W, r / W]
    ydom = [1 - b / H, 1 - t / H]
    common = dict(showline=False, zeroline=False, showgrid=True, gridcolor=GRID,
                  gridwidth=1, griddash="3px,1.6px", ticks="outside", ticklen=6,
                  tickwidth=1.5, tickcolor="#333333",
                  tickfont=dict(family=FONT, size=TICK_SIZE, color="black"))
    layout["xaxis" + k] = dict(domain=xdom, range=X_RANGE, anchor=ya,
                               tickmode="array", tickvals=X_TICKS,
                               ticktext=[str(v) for v in X_TICKS], tickangle=-45,
                               ticklabelshift=16, ticklabelstandoff=9, **common)
    yt = Y_TICKS[name]
    layout["yaxis" + k] = dict(domain=ydom, range=Y_RANGES[name], anchor=xa,
                               tickmode="array", tickvals=yt, ticktext=[fmt(v) for v in yt],
                               ticklabelstandoff=4,
                               title=dict(text=Y_LABEL, standoff=10,
                                          font=dict(family=FONT, size=TICK_SIZE, color="black")),
                               **common)
    annotations.append(dict(text=name, x=(xdom[0] + xdom[1]) / 2, y=ydom[1],
                            xref="paper", yref="paper", xanchor="center", yanchor="bottom",
                            yshift=7, showarrow=False,
                            font=dict(family=FONT, size=23.5, color="black")))

layout["annotations"] = annotations
fig.update_layout(**layout)
fig.write_html("out.html")
